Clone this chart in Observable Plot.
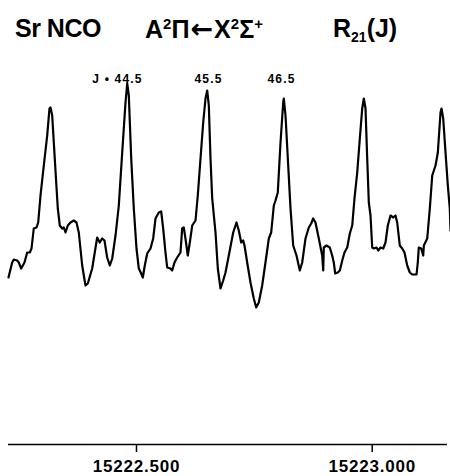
<!DOCTYPE html>
<html><head><meta charset="utf-8">
<script src="https://cdn.jsdelivr.net/npm/d3@7"></script>
<script src="https://cdn.jsdelivr.net/npm/@observablehq/plot@0.6"></script>
<style>
body{margin:0;background:#fff;font-family:"Liberation Sans",Arial,sans-serif;color:#000;}
#wrap{position:relative;width:450px;height:476px;overflow:hidden;}
#title{position:relative;height:50px;font-weight:bold;font-size:25px;line-height:25px;}
#title .p{position:absolute;top:16px;white-space:nowrap;}
#title sup{font-size:15px;vertical-align:9px;line-height:0;}
#title sub{font-size:14px;vertical-align:-5px;line-height:0;}
#title .arr{font-family:"DejaVu Sans",sans-serif;font-size:27px;margin:0 1px 0 1px;}
.xt text{letter-spacing:0.8px;}
.jl text{letter-spacing:1.2px;}
</style></head>
<body><div id="wrap">
<div id="title">
  <span class="p" style="left:15px;letter-spacing:-0.5px">Sr NCO</span>
  <span class="p" style="left:145px">A<sup>2</sup>&Pi;<span class="arr">&larr;</span>X<sup>2</sup>&Sigma;<sup>+</sup></span>
  <span class="p" style="left:333px">R<sub>21</sub>(J)</span>
</div>
<div id="chart"></div>
</div>
<script>
// Wavenumber (cm^-1) and relative intensity (a.u.)
const wavenumber = [
15222.2285,15222.2363,15222.2397,15222.2469,15222.2503,15222.2554,15222.2624,15222.2681,15222.2737,15222.2773,
15222.2821,15222.2879,15222.2915,15222.2964,15222.3034,15222.3106,15222.3154,15222.3176,15222.3212,15222.3246,
15222.3297,15222.3331,15222.3373,15222.3424,15222.3458,15222.3494,15222.3543,15222.3600,15222.3670,15222.3727,
15222.3776,15222.3848,15222.3918,15222.3967,15222.4060,15222.4166,15222.4221,15222.4272,15222.4321,15222.4378,
15222.4434,15222.4485,15222.4555,15222.4625,15222.4697,15222.4767,15222.4803,15222.4837,15222.4888,15222.4943,
15222.5000,15222.5049,15222.5100,15222.5134,15222.5176,15222.5227,15222.5297,15222.5354,15222.5403,15222.5473,
15222.5524,15222.5566,15222.5615,15222.5651,15222.5721,15222.5757,15222.5806,15222.5863,15222.5933,15222.5969,
15222.6003,15222.6039,15222.6088,15222.6131,15222.6182,15222.6252,15222.6300,15222.6358,15222.6415,15222.6464,
15222.6500,15222.6534,15222.6570,15222.6606,15222.6676,15222.6725,15222.6782,15222.6839,15222.6888,15222.6958,
15222.7051,15222.7121,15222.7170,15222.7221,15222.7263,15222.7291,15222.7348,15222.7418,15222.7488,15222.7539,
15222.7594,15222.7666,15222.7736,15222.7807,15222.7857,15222.7913,15222.7949,15222.7997,15222.8055,15222.8112,
15222.8125,15222.8161,15222.8210,15222.8267,15222.8324,15222.8394,15222.8464,15222.8515,15222.8585,15222.8655,
15222.8706,15222.8748,15222.8797,15222.8867,15222.8939,15222.8961,15222.8973,15222.9030,15222.9100,15222.9151,
15222.9185,15222.9215,15222.9270,15222.9313,15222.9364,15222.9412,15222.9470,15222.9525,15222.9576,15222.9624,
15222.9682,15222.9737,15222.9788,15222.9822,15222.9858,15222.9894,15222.9928,15222.9964,15223.0000,15223.0034,
15223.0091,15223.0127,15223.0176,15223.0233,15223.0282,15223.0331,15223.0388,15223.0445,15223.0494,15223.0530,
15223.0585,15223.0636,15223.0685,15223.0742,15223.0798,15223.0848,15223.0940,15223.0967,15223.0988,15223.1039,
15223.1082,15223.1095,15223.1167,15223.1222,15223.1273,15223.1343,15223.1392,15223.1449,15223.1470,15223.1506,
15223.1555,15223.1604,15223.1646,15223.1661
];
const intensity = [
167,182,185,184,182,176,182,192,192,196,
216,217,222,249,279,309,336,337,329,302,
262,236,219,216,217,212,219,222,224,222,
212,179,159,161,176,207,202,206,204,187,
179,186,209,239,292,342,361,349,286,236,
196,176,171,167,179,191,196,206,226,232,
233,216,192,177,176,174,182,187,192,216,
217,206,189,202,219,224,249,286,322,346,
354,339,286,246,212,176,156,164,172,189,
212,222,214,202,204,199,182,162,146,137,
142,159,182,206,212,239,244,252,302,342,
346,329,286,236,199,189,174,182,206,217,
221,226,222,206,189,174,197,199,197,189,
182,171,172,174,184,192,197,211,219,246,
272,306,336,346,336,286,242,229,197,196,
197,194,197,196,202,219,229,227,229,222,
199,196,192,179,172,170,170,182,197,196,
189,199,206,236,269,279,292,332,336,326,
292,259,236,214
];
const xTickValues = [15222.5, 15223.0];
const peakLabels = ["J \u2022 44.5", "45.5", "46.5"];
const peakLabelX = [15222.4597, 15222.6527, 15222.8076];

const trace = wavenumber.map((w, i) => ({w, v: intensity[i]}));
const labels = peakLabels.map((t, i) => ({t, x: peakLabelX[i]}));

const chart = Plot.plot({
  width: 450,
  height: 426,
  marginLeft: 8,
  marginRight: 3,
  marginTop: 33,
  marginBottom: 32,
  style: {fontFamily: '"Liberation Sans", Arial, sans-serif', color: "#000", background: "#fff"},
  x: {domain: [15222.2285, 15223.1597]},
  y: {domain: [0, 361], axis: null},
  marks: [
    Plot.ruleY([0], {stroke: "#000", strokeWidth: 1.6}),
    Plot.axisX(xTickValues, {
      className: "xt",
      tickSize: 8,
      tickPadding: 7,
      tickFormat: d => d.toFixed(3),
      fontSize: 17,
      fontWeight: "bold",
      strokeWidth: 1.5,
      label: null
    }),
    Plot.line(trace, {x: "w", y: "v", stroke: "#000", strokeWidth: 2.2, strokeLinejoin: "round"}),
    Plot.text(labels, {x: "x", text: "t", frameAnchor: "top", dy: -9, fontSize: 12, fontWeight: "bold", className: "jl"})
  ]
});
document.getElementById("chart").appendChild(chart);
</script>
</body></html>
